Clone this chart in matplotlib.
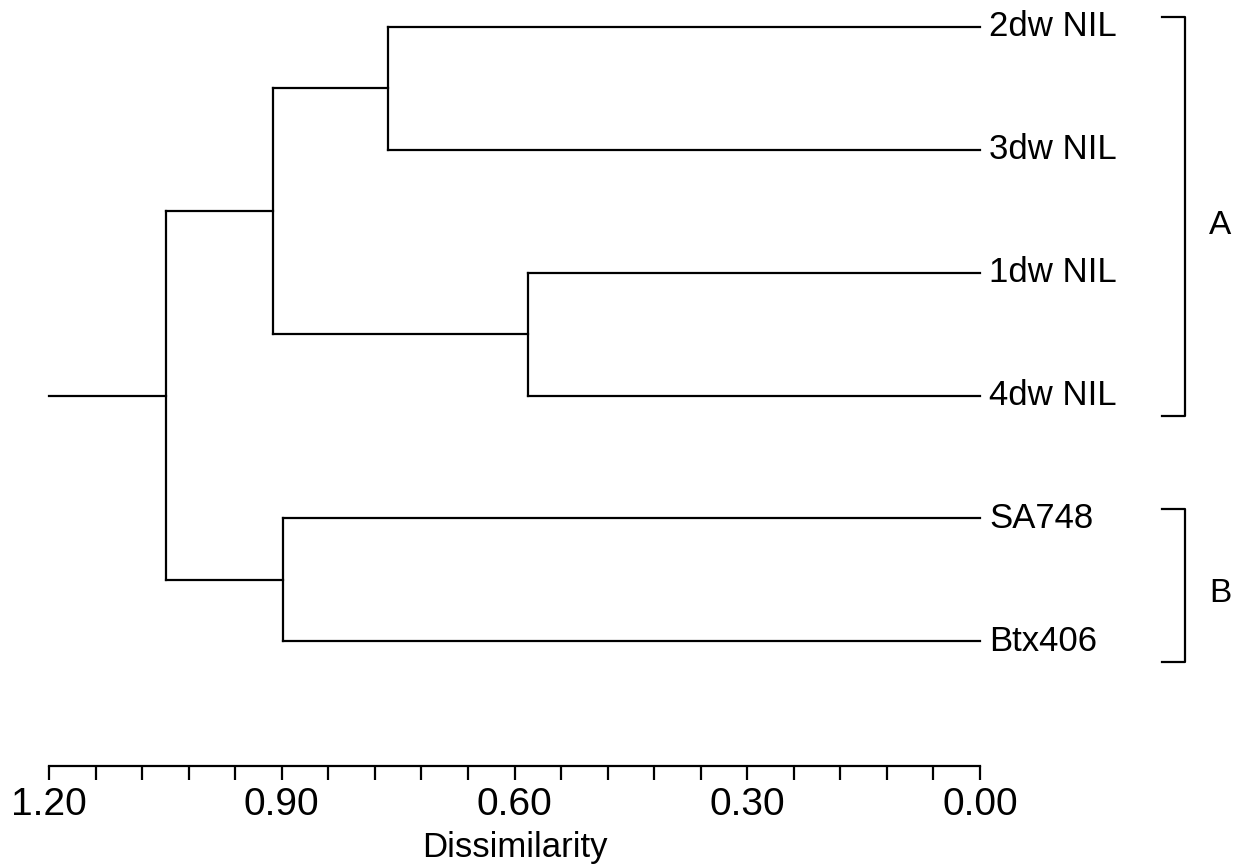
import numpy as np
import matplotlib
matplotlib.use("Agg")
import matplotlib.pyplot as plt
from matplotlib.ticker import FixedLocator

plt.rcParams['font.family'] = ['Liberation Sans', 'DejaVu Sans']

# leaves, top to bottom
leaves = ['2dw NIL', '3dw NIL', '1dw NIL', '4dw NIL', 'SA748', 'Btx406']
# merges: (node a, node b, dissimilarity); new nodes numbered from len(leaves)
merges = [(0, 1, 0.763), (2, 3, 0.583), (6, 7, 0.911), (4, 5, 0.898), (8, 9, 1.049)]
root_start = 1.20
groups = ['A', 'B']
group_span = [(0, 3), (4, 5)]

major_ticks = [1.20, 0.90, 0.60, 0.30, 0.00]

lw = 1.6
fig = plt.figure(figsize=(12.39, 8.66), dpi=100)
ax = fig.add_axes([49 / 1239, 100 / 866, 931 / 1239, 739 / 866])

n = len(leaves)
ypos = {i: (n - 1 - i) for i in range(n)}
xpos = {i: 0.0 for i in range(n)}
for k, (a, b, h) in enumerate(merges):
    node = n + k
    for c in (a, b):
        ax.plot([xpos[c], h], [ypos[c], ypos[c]], color='black', lw=lw, clip_on=False,
                solid_capstyle='projecting')
    ax.plot([h, h], [ypos[a], ypos[b]], color='black', lw=lw, clip_on=False,
            solid_capstyle='projecting')
    xpos[node] = h
    ypos[node] = (ypos[a] + ypos[b]) / 2
root = n + len(merges) - 1
ax.plot([xpos[root], root_start], [ypos[root], ypos[root]], color='black', lw=lw, clip_on=False)

for i, name in enumerate(leaves):
    ax.text(-0.012, ypos[i], name, fontsize=25, ha='left', va='center')

# brackets
x_in, x_out = -0.234, -0.264
for g, (i0, i1) in zip(groups, group_span):
    top = ypos[i0] + 0.08
    bot = ypos[i1] - 0.17
    ax.plot([x_in, x_out, x_out, x_in], [top, top, bot, bot], color='black', lw=lw,
            clip_on=False)
    ax.text(-0.31, (top + bot) / 2 - 0.07, g, fontsize=24, ha='center', va='center')

ax.set_xlim(1.2, 0.0)
ax.set_ylim(-1.016, n - 1)
for s in ['top', 'left', 'right']:
    ax.spines[s].set_visible(False)
ax.spines['bottom'].set_linewidth(lw)
ax.set_yticks([])
ax.xaxis.set_major_locator(FixedLocator(major_ticks))
ax.xaxis.set_minor_locator(FixedLocator(np.round(np.arange(0, 1.2001, 0.06), 2)))
ax.set_xticklabels([f"{t:.2f}" for t in major_ticks])
ax.tick_params(axis='x', which='both', direction='out', length=10, width=lw)
ax.tick_params(axis='x', which='major', labelsize=28, pad=5)
ax.set_xlabel('Dissimilarity', fontsize=25, labelpad=6)

fig.savefig('out.png', dpi=100)
